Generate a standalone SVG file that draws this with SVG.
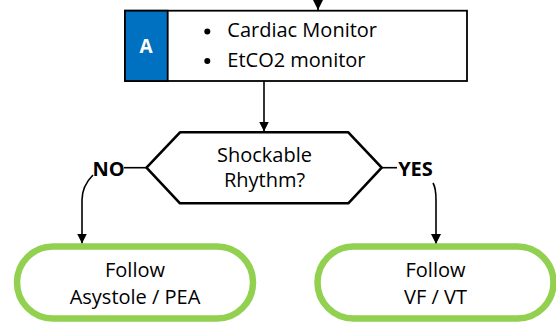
<svg xmlns="http://www.w3.org/2000/svg" width="556" height="325" viewBox="0 0 556 325">
<defs>
<marker id="arr" viewBox="0 0 10 10" refX="10" refY="5" markerWidth="10" markerHeight="10" markerUnits="userSpaceOnUse" orient="auto">
<path d="M0,0 L10,5 L0,10 Z" fill="#000"/>
</marker>
</defs>
<style>
.t{font-family:"Open Sans","Noto Sans",sans-serif;fill:#000;font-size:20px;}
.c{fill:none;stroke:#000;stroke-width:1.6;}
.term{fill:#fff;stroke:#92D050;stroke-width:6.5;}
.lbl{font-family:"Open Sans","Noto Sans",sans-serif;font-weight:bold;font-size:20px;fill:#000;}
</style>
<rect width="556" height="325" fill="#fff"/>
<g id="connectors">
<line class="c" x1="318" y1="0" x2="318" y2="10" marker-end="url(#arr)"/>
<line class="c" x1="264" y1="81" x2="264" y2="131.5" marker-end="url(#arr)"/>
<line class="c" x1="124" y1="167.7" x2="146" y2="167.7"/>
<path class="c" d="M93,175 C86,182 82,190 82,200 L82,243.5" marker-end="url(#arr)"/>
<line class="c" x1="382" y1="167.7" x2="397" y2="167.7"/>
<path class="c" d="M433,183 C436,188 436,193 436,200 L436,244" marker-end="url(#arr)"/>
</g>
<g id="nodeA">
<rect x="125" y="10.7" width="342" height="70.3" fill="#fff" stroke="#000" stroke-width="1.8"/>
<rect x="125" y="10.7" width="42.7" height="70.3" fill="#0070C0" stroke="#000" stroke-width="1.8"/>
<text x="146" y="53" text-anchor="middle" font-family="Open Sans, sans-serif" font-weight="bold" font-size="19" fill="#fff">A</text>
<circle cx="207.3" cy="31.5" r="3" fill="#000"/>
<circle cx="207.3" cy="61" r="3" fill="#000"/>
<text class="t" x="227.3" y="37.3">Cardiac Monitor</text>
<text class="t" x="227.3" y="66.7">EtCO2 monitor</text>
</g>
<g id="decision">
<polygon points="180,132.3 348.3,132.3 381.7,167.7 348.3,203.3 180,203.3 146.5,167.7" fill="#fff" stroke="#000" stroke-width="2.6" stroke-linejoin="round"/>
<text class="t" x="264.5" y="162.3" text-anchor="middle">Shockable</text>
<text class="t" x="264.5" y="187" text-anchor="middle">Rhythm?</text>
</g>
<g id="labelNo"><text class="lbl" x="108.5" y="175.5" text-anchor="middle">NO</text></g>
<g id="labelYes"><text class="lbl" x="415.5" y="175.5" text-anchor="middle">YES</text></g>
<g id="asystole">
<rect class="term" x="17" y="246.5" width="236" height="72" rx="36" ry="36"/>
<text class="t" x="135" y="277" text-anchor="middle">Follow</text>
<text class="t" x="135" y="303.5" text-anchor="middle">Asystole / PEA</text>
</g>
<g id="vfvt">
<rect class="term" x="317.5" y="246.5" width="236" height="72" rx="36" ry="36"/>
<text class="t" x="435.5" y="277" text-anchor="middle">Follow</text>
<text class="t" x="435.5" y="303.5" text-anchor="middle">VF / VT</text>
</g>
</svg>
